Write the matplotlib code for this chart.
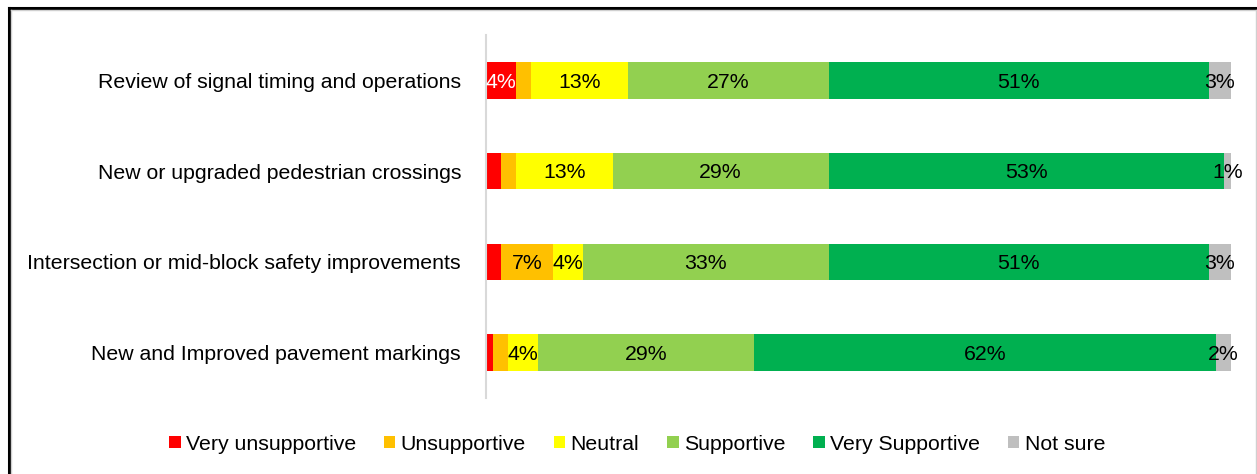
import matplotlib

matplotlib.use("Agg")
import matplotlib.pyplot as plt
from matplotlib.lines import Line2D
from matplotlib.patches import Patch
import numpy as np

plt.rcParams["font.family"] = ["Liberation Sans", "DejaVu Sans"]

categories = [
    "Review of signal timing and operations",
    "New or upgraded pedestrian crossings",
    "Intersection or mid-block safety improvements",
    "New and Improved pavement markings",
]
responses = ["Very unsupportive", "Unsupportive", "Neutral", "Supportive", "Very Supportive", "Not sure"]
very_unsupportive = [4, 2, 2, 1]
unsupportive = [2, 2, 7, 2]
neutral = [13, 13, 4, 4]
supportive = [27, 29, 33, 29]
very_supportive = [51, 53, 51, 62]
not_sure = [3, 1, 3, 2]

COLORS = ["#FF0000", "#FFC000", "#FFFF00", "#92D050", "#00B050", "#BFBFBF"]
TEXT_COLORS = ["white", "black", "black", "black", "black", "black"]
FS = 15.3

series = [very_unsupportive, unsupportive, neutral, supportive, very_supportive, not_sure]

W, H = 1257, 474
fig = plt.figure(figsize=(W / 100, H / 100), dpi=100)
ax = fig.add_axes([486 / W, 1 - 398 / H, (1231 - 486) / W, (398 - 35) / H])

y = np.arange(len(categories))
left = np.zeros(len(categories))
for i, (name, vals) in enumerate(zip(responses, series)):
    vals = np.asarray(vals, dtype=float)
    ax.barh(y, vals, left=left, height=0.4, color=COLORS[i], label=name, linewidth=0)
    for yy, l, v in zip(y, left, vals):
        # small slices only get a label in the "Not sure" column
        if v >= 4 or name == "Not sure":
            ax.text(l + v / 2, yy + 0.02, f"{int(v)}%", ha="center", va="center",
                    fontsize=FS, color=TEXT_COLORS[i])
    left += vals

ax.set_xlim(0, 100)
ax.set_ylim(len(categories) - 0.5, -0.5)
ax.set_yticks(y, categories, fontsize=FS)
ax.set_xticks([])
ax.tick_params(axis="y", length=0, pad=18)
for s in ["top", "right", "bottom"]:
    ax.spines[s].set_visible(False)
ax.spines["left"].set_color("#D9D9D9")
ax.spines["left"].set_linewidth(1.5)

handles = [Patch(facecolor=c, edgecolor="none") for c in COLORS]
fig.legend(handles, responses, loc="center", bbox_to_anchor=(637 / W, 1 - 444 / H),
           ncol=6, frameon=False, fontsize=FS, handlelength=0.55, handleheight=0.55,
           handletextpad=0.25, columnspacing=1.3)

# frame around the chart area
def px_line(x0, y0, x1, y1, color, lw):
    fig.add_artist(Line2D([x0 / W, x1 / W], [1 - y0 / H, 1 - y1 / H],
                          color=color, linewidth=lw, transform=fig.transFigure))

px_line(9, 8, W, 8, "black", 2.2)
px_line(9, 8, 9, H, "black", 2.2)
px_line(11, 10, W, 10, "#D0D0D0", 1)
px_line(11, 10, 11, H, "#D0D0D0", 1)
px_line(1256, 10, 1256, H, "#D0D0D0", 1)

fig.savefig("out.png", dpi=100)
